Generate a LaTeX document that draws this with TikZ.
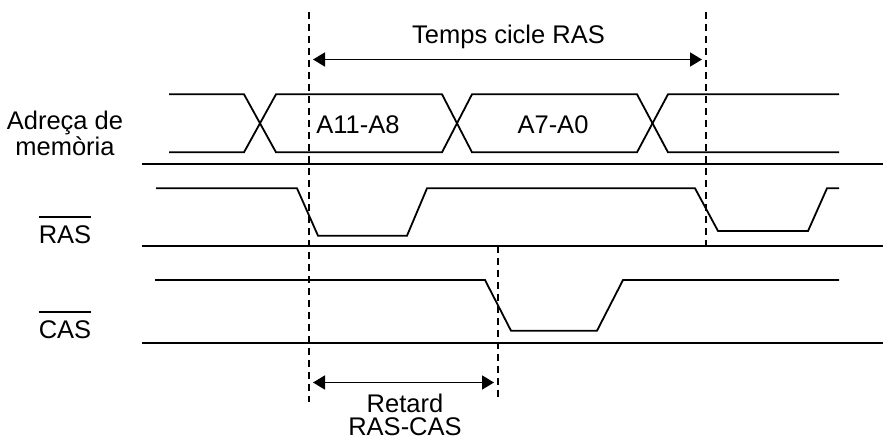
\documentclass[tikz,border=0pt]{standalone}
\usepackage{fontspec}
\setmainfont{Liberation Sans}
\usetikzlibrary{arrows.meta,calc,positioning}

\begin{document}
\begin{tikzpicture}[x=1pt, y=-1pt, font=\fontsize{25.5}{25.5}\selectfont,
    signal/.style={line width=1.8pt},
    guide/.style={line width=1.5pt, dash pattern=on 7pt off 5pt},
    dim/.style={line width=1.8pt, {Triangle[length=12pt,width=14pt]}-{Triangle[length=12pt,width=14pt]}}]
    \useasboundingbox (0,0) rectangle (883,439);

    % separadors
    \draw[signal] (142,164) -- (883,164);
    \draw[signal] (142,245.7) -- (883,245.7);
    \draw[signal] (142,343.3) -- (883,343.3);

    % bus d'adreces
    \draw[signal] (169,94.3) -- (244,94.3) -- (276,152.3) -- (442,152.3) -- (472,94.3)
        -- (637,94.3) -- (668,152.3) -- (839,152.3);
    \draw[signal] (169,152.3) -- (244,152.3) -- (276,94.3) -- (442,94.3) -- (472,152.3)
        -- (637,152.3) -- (668,94.3) -- (839,94.3);
    \node[anchor=base] (a11) at (358,133) {A11-A8};
    \node[anchor=base] (a7) at (553,133) {A7-A0};

    % RAS i CAS
    \draw[signal] (156,188.3) -- (297,188.3) -- (318,235.7) -- (407,235.7) -- (427,188.3)
        -- (695,188.3) -- (718,231) -- (808,231) -- (827,188.3) -- (839,188.3);
    \draw[signal] (155,280) -- (485,280) -- (511,330.7) -- (597,330.7) -- (623,280) -- (839,280);

    % guies
    \coordinate (g1t) at (309,12);   \coordinate (g1b) at (309,402);
    \coordinate (g2t) at (706,12);   \coordinate (g2b) at (706,245);
    \coordinate (g3t) at (498,246);  \coordinate (g3b) at (498,397);
    \draw[guide] (g1t) -- (g1b);
    \draw[guide] (g2t) -- (g2b);
    \draw[guide] (g3t) -- (g3b);

    % cotes
    \coordinate (c1) at (313,59.5);  \coordinate (c2) at (702,59.5);
    \coordinate (r1) at (313,382.5); \coordinate (r2) at (494,382.5);
    \draw[dim] (c1) -- (c2);
    \draw[dim] (r1) -- (r2);
    \node[anchor=base] (cicle) at (508.5,43) {Temps cicle RAS};
    \node[anchor=base, inner sep=0pt, align=center,
          font=\fontsize{25.5}{23}\selectfont] (retard) at (405,435.5) {Retard\\RAS-CAS};

    % etiquetes
    \node[anchor=base, inner sep=0pt, align=center,
          font=\fontsize{25.5}{23.3}\selectfont] (adr) at (65,155) {Adreça de\\memòria};
    \node[anchor=base, inner sep=0pt] (ras) at (65,243) {RAS};
    \node[anchor=base, inner sep=0pt] (cas) at (65,338) {CAS};
    \draw[line width=1.8pt] ([yshift=8pt]ras.north west) -- ([yshift=8pt]ras.north east);
    \draw[line width=1.8pt] ([yshift=8pt]cas.north west) -- ([yshift=8pt]cas.north east);
\end{tikzpicture}
\end{document}
